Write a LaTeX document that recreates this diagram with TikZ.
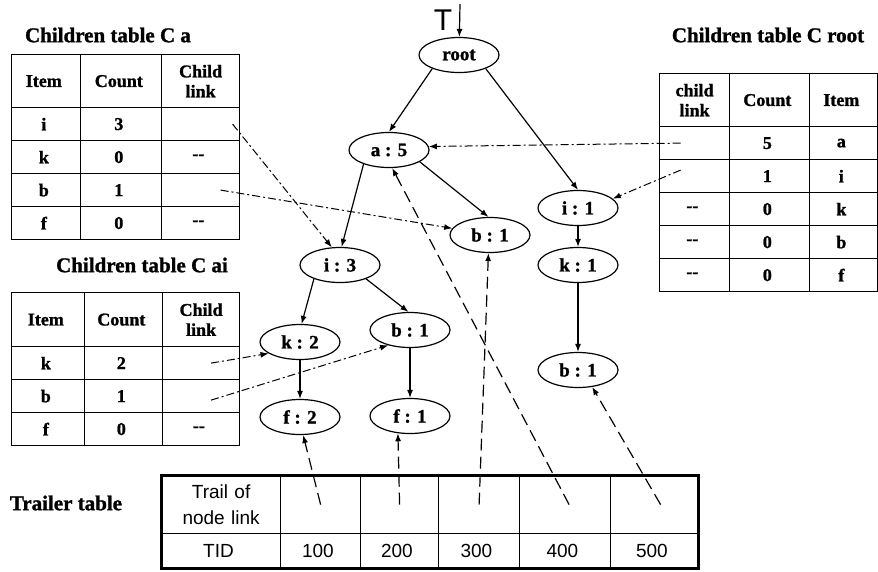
\documentclass[tikz,border=0pt]{standalone}
\usepackage{fontspec}
\setmainfont{Liberation Serif}[BoldFeatures={FakeBold=1.2}]
\newfontfamily\arialfont{Liberation Sans}
\usetikzlibrary{arrows.meta,matrix,positioning,shapes.geometric}

\tikzset{
  % table cells
  tbl/.style = {matrix of nodes, inner sep=0pt, outer sep=0pt,
                column sep=-1.2pt, row sep=-1.2pt, nodes in empty cells,
                nodes={draw, line width=1.2pt, inner sep=1pt, align=center,
                       anchor=center, minimum height=33pt,
                       font=\fontsize{18}{20}\selectfont\bfseries},
                row 1/.style={nodes={minimum height=53pt}}},
  twoline/.style = {text width=#1},
  title/.style = {font=\fontsize{21}{23}\selectfont\bfseries},
  % tree nodes
  tnode/.style = {ellipse, draw, line width=1.2pt, inner sep=0pt,
                  minimum width=80pt, minimum height=35pt,
                  font=\fontsize{19}{21}\selectfont\bfseries},
  tip/.style = {-{Latex[length=8pt,width=6pt]}},
  treeline/.style = {tip, line width=1.2pt},
  childlink/.style = {tip, line width=1pt, dash pattern=on 8pt off 3pt on 2pt off 3pt},
  trailline/.style = {tip, line width=1.2pt, dash pattern=on 12pt off 6pt},
}

\begin{document}
\begin{tikzpicture}[x=1pt, y=-1pt]
\useasboundingbox (0,0) rectangle (878,571);

%---- children tables
\node[title] (catitle) at (108,35) {Children table C a};
\matrix (ca) [tbl, anchor=north west,
  column 1/.style={nodes={minimum width=69pt}},
  column 2/.style={nodes={minimum width=81pt}},
  column 3/.style={nodes={minimum width=78pt}}] at (11,54) {
  Item & Count & |[twoline=44pt]| Child link \\
  i & 3 & \\
  k & 0 & -{}- \\
  b & 1 & \\
  f & 0 & -{}- \\
};

\node[title] (caititle) at (142,265) {Children table C ai};
\matrix (cai) [tbl, anchor=north west,
  row 1/.style={nodes={minimum height=54pt}},
  column 1/.style={nodes={minimum width=73pt}},
  column 2/.style={nodes={minimum width=78pt}},
  column 3/.style={nodes={minimum width=77pt}}] at (11,292) {
  Item & Count & |[twoline=44pt]| Child link \\
  k & 2 & \\
  b & 1 & \\
  f & 0 & -{}- \\
};

\node[title] (croottitle) at (768,35) {Children table C root};
\matrix (croot) [tbl, anchor=north west,
  column 1/.style={nodes={minimum width=70pt}},
  column 2/.style={nodes={minimum width=80pt}},
  column 3/.style={nodes={minimum width=68pt}}] at (659,73) {
  |[twoline=44pt]| child link & Count & Item \\
   & 5 & a \\
   & 1 & i \\
  -{}- & 0 & k \\
  -{}- & 0 & b \\
  -{}- & 0 & f \\
};

%---- trailer table
\node[title] (trtitle) at (66,503) {Trailer table};
\matrix (tr) [tbl, anchor=north west,
  nodes={font=\arialfont\fontsize{19}{26}\selectfont},
  row 1/.style={nodes={minimum height=58pt}},
  row 2/.style={nodes={minimum height=35pt}},
  column 1/.style={nodes={minimum width=119pt}},
  column 2/.style={nodes={minimum width=80pt}},
  column 3/.style={nodes={minimum width=78pt}},
  column 4/.style={nodes={minimum width=81pt}},
  column 5/.style={nodes={minimum width=91pt}},
  column 6/.style={nodes={minimum width=88pt}}] at (161,475) {
  |[twoline=84pt]| Trail of node link & & & & & \\
  TID & 100 & 200 & 300 & 400 & 500 \\
};
\draw[line width=2.4pt] (tr-1-1.north west) rectangle (tr-2-6.south east);

%---- the tree
\node[tnode] (root) at (459,55)  {root};
\node[tnode] (a5)   at (389,150) {a : 5};
\node[tnode] (i1)   at (578,208) {i : 1};
\node[tnode] (b1m)  at (490,235) {b : 1};
\node[tnode] (i3)   at (340,265) {i : 3};
\node[tnode] (k1)   at (578,265) {k : 1};
\node[tnode] (k2)   at (300,342) {k : 2};
\node[tnode] (b1s)  at (410,330) {b : 1};
\node[tnode] (f2)   at (300,417) {f : 2};
\node[tnode] (f1)   at (410,416) {f : 1};
\node[tnode] (b1r)  at (578,370) {b : 1};

\node[font=\arialfont\fontsize{30}{30}\selectfont] (tlabel) at (443,20) {T};
\coordinate (tin) at (460,4);
\draw[treeline] (tin) -- (root);

\draw[treeline] (root.207) -- (a5.north);
\draw[treeline] (root.333) -- (i1.north);
\draw[treeline] (a5.209)   -- (i3.85);
\draw[treeline] (a5.339)   -- (b1m.95);
\draw[treeline] (i1)       -- (k1);
\draw[treeline] (k1)       -- (b1r);
\draw[treeline] (i3.208)   -- (k2.85);
\draw[treeline] (i3.332)   -- (b1s.95);
\draw[treeline] (k2)       -- (f2);
\draw[treeline] (b1s)      -- (f1);

%---- child links
\draw[childlink] ([xshift=-7pt]ca-2-3.east) -- (i3.115);
\draw[childlink] ([xshift=20pt]ca-4-3.center) -- (b1m.170);
\draw[childlink] ([xshift=-14pt]croot-2-1.center) -- (a5.5);
\draw[childlink] ([xshift=-14pt,yshift=6pt]croot-3-1.center) -- (i1.15);
\draw[childlink] ([xshift=10pt]cai-2-3.center) -- (k2.200);
\draw[childlink] ([xshift=10pt,yshift=-4pt]cai-3-3.center) -- (b1s.215);

%---- node links of the trailer table
\draw[trailline] (tr-1-2.center) -- (f2.280);
\draw[trailline] (tr-1-3.center) -- (f1.235);
\draw[trailline] (tr-1-4.center) -- (b1m.265);
\draw[trailline] ([xshift=4pt]tr-1-5.center) -- (a5.280);
\draw[trailline] ([xshift=6pt]tr-1-6.center) -- (b1r.310);
\end{tikzpicture}
\end{document}
